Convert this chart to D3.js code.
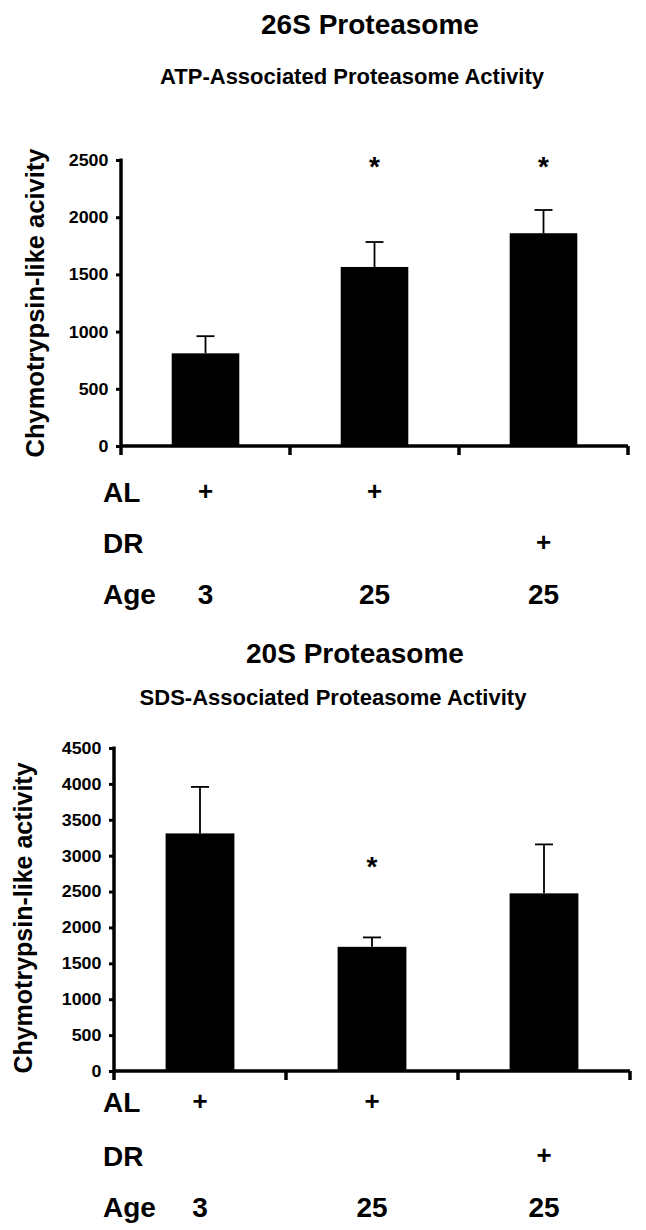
<!DOCTYPE html>
<html>
<head>
<meta charset="utf-8">
<script src="https://cdn.jsdelivr.net/npm/d3@7"></script>
<style>
  html, body { margin: 0; padding: 0; background: #fff; }
  svg { display: block; font-family: "Liberation Sans", Arial, Helvetica, sans-serif; font-weight: bold; }
</style>
</head>
<body>
<svg id="chart" width="646" height="1230"></svg>
<script>
// ---- Data ----
const categories = ["AL-3", "AL-25", "DR-25"];

const topValues = [810, 1565, 1860];
const topErrors = [150, 218, 203];
const topTicks = [0, 500, 1000, 1500, 2000, 2500];
const topSig = [false, true, true];
const topSigLevel = 2500;

const bottomValues = [3310, 1730, 2475];
const bottomErrors = [648, 131, 682];
const bottomTicks = [0, 500, 1000, 1500, 2000, 2500, 3000, 3500, 4000, 4500];
const bottomSig = [false, true, false];
const bottomSigLevel = 2940;

const rowNames = ["AL", "DR", "Age"];
const alRow = ["+", "+", ""];
const drRow = ["", "", "+"];
const ageRow = ["3", "25", "25"];

const topTitle = "26S Proteasome";
const topSubtitle = "ATP-Associated Proteasome Activity";
const topYLabel = "Chymotrypsin-like acivity";
const bottomTitle = "20S Proteasome";
const bottomSubtitle = "SDS-Associated Proteasome Activity";
const bottomYLabel = "Chymotrypsin-like activity";

// ---- Drawing ----
const svg = d3.select("#chart");

function drawPanel(cfg) {
  const g = svg.append("g");
  const x = d3.scaleBand().domain(categories).range([cfg.x0, cfg.x1]).paddingInner(0.6).paddingOuter(0.3);
  const xb = d3.scaleBand().domain(categories).range([cfg.x0, cfg.x1]);
  const y = d3.scaleLinear().domain([0, cfg.ymax]).range([cfg.y0, cfg.y1]);

  // titles
  g.append("text").attr("x", cfg.titleX).attr("y", cfg.titleY)
    .attr("text-anchor", "middle").attr("font-size", 28).text(cfg.title);
  g.append("text").attr("x", cfg.subX).attr("y", cfg.subY)
    .attr("text-anchor", "middle").attr("font-size", 22).text(cfg.subtitle);

  // y label
  g.append("text")
    .attr("transform", `translate(${cfg.ylabX},${cfg.ylabY}) rotate(-90)`)
    .attr("text-anchor", "middle").attr("font-size", cfg.ylabSize).text(cfg.ylabel);

  // bars
  g.selectAll("rect.bar").data(cfg.values).join("rect")
    .attr("class", "bar")
    .attr("x", (d, i) => x(categories[i]))
    .attr("width", x.bandwidth())
    .attr("y", d => y(d))
    .attr("height", d => y(0) - y(d))
    .attr("fill", "#000");

  // error bars (upper)
  const cx = i => x(categories[i]) + x.bandwidth() / 2;
  g.selectAll("line.err").data(cfg.values).join("line")
    .attr("class", "err")
    .attr("x1", (d, i) => cx(i)).attr("x2", (d, i) => cx(i))
    .attr("y1", d => y(d)).attr("y2", (d, i) => y(d + cfg.errors[i]))
    .attr("stroke", "#000").attr("stroke-width", 1.8);
  g.selectAll("line.cap").data(cfg.values).join("line")
    .attr("class", "cap")
    .attr("x1", (d, i) => cx(i) - 9).attr("x2", (d, i) => cx(i) + 9)
    .attr("y1", (d, i) => y(d + cfg.errors[i])).attr("y2", (d, i) => y(d + cfg.errors[i]))
    .attr("stroke", "#000").attr("stroke-width", 1.8);

  // significance asterisks
  const sigIdx = cfg.sig.map((s, i) => s ? i : -1).filter(i => i >= 0);
  g.selectAll("text.sig").data(sigIdx).join("text")
    .attr("class", "sig")
    .attr("x", i => cx(i)).attr("y", y(cfg.sigLevel) + 16)
    .attr("text-anchor", "middle").attr("font-size", 28).text("*");

  // y axis
  const yAxis = d3.axisLeft(y).tickValues(cfg.ticks).tickSize(5).tickPadding(7).tickFormat(d3.format("d"));
  const ya = g.append("g").attr("transform", `translate(${cfg.x0},0)`).call(yAxis);
  ya.select(".domain").remove();
  ya.selectAll(".tick line").attr("stroke", "#000").attr("stroke-width", 3);
  ya.selectAll(".tick text")
    .attr("font-size", 17).attr("font-weight", "bold").attr("font-family", "'Liberation Sans', Arial, sans-serif")
    .attr("fill", "#000")
    .attr("transform", "scale(1.05,1)");
  g.append("line").attr("x1", cfg.x0).attr("x2", cfg.x0)
    .attr("y1", y(cfg.ymax) - 1.5).attr("y2", cfg.y0 + 9)
    .attr("stroke", "#000").attr("stroke-width", 3.5);

  // x axis (band boundaries)
  const bounds = categories.map(c => xb(c)).concat([cfg.x1]);
  g.append("line").attr("x1", cfg.x0).attr("x2", cfg.x1)
    .attr("y1", cfg.y0).attr("y2", cfg.y0)
    .attr("stroke", "#000").attr("stroke-width", 3.5);
  g.selectAll("line.xt").data(bounds.slice(1)).join("line")
    .attr("class", "xt")
    .attr("x1", d => d).attr("x2", d => d)
    .attr("y1", cfg.y0).attr("y2", cfg.y0 + 9)
    .attr("stroke", "#000").attr("stroke-width", 3.5);

  // condition rows
  const rows = [alRow, drRow, ageRow];
  rows.forEach((row, r) => {
    const by = cfg.y0 + cfg.rowOffsets[r];
    g.append("text").attr("x", 103).attr("y", by).attr("font-size", 28).text(rowNames[r]);
    g.selectAll(null).data(row).join("text")
      .attr("x", (d, i) => cx(i))
      .attr("y", by - (r < 2 ? 2 : 0))
      .attr("text-anchor", "middle")
      .attr("font-size", r < 2 ? 26 : 28)
      .text(d => d);
  });
}

drawPanel({
  x0: 121, x1: 628, y0: 446, y1: 160, ymax: 2500,
  values: topValues, errors: topErrors, ticks: topTicks,
  sig: topSig, sigLevel: topSigLevel,
  title: topTitle, titleX: 370, titleY: 34,
  subtitle: topSubtitle, subX: 352, subY: 84,
  ylabel: topYLabel, ylabX: 44, ylabY: 303, ylabSize: 25.5,
  rowOffsets: [56, 107, 158]
});

drawPanel({
  x0: 114, x1: 630, y0: 1071, y1: 748, ymax: 4500,
  values: bottomValues, errors: bottomErrors, ticks: bottomTicks,
  sig: bottomSig, sigLevel: bottomSigLevel,
  title: bottomTitle, titleX: 355, titleY: 663,
  subtitle: bottomSubtitle, subX: 333, subY: 705,
  ylabel: bottomYLabel, ylabX: 32, ylabY: 918, ylabSize: 25,
  rowOffsets: [41, 95, 146]
});
</script>
</body>
</html>
